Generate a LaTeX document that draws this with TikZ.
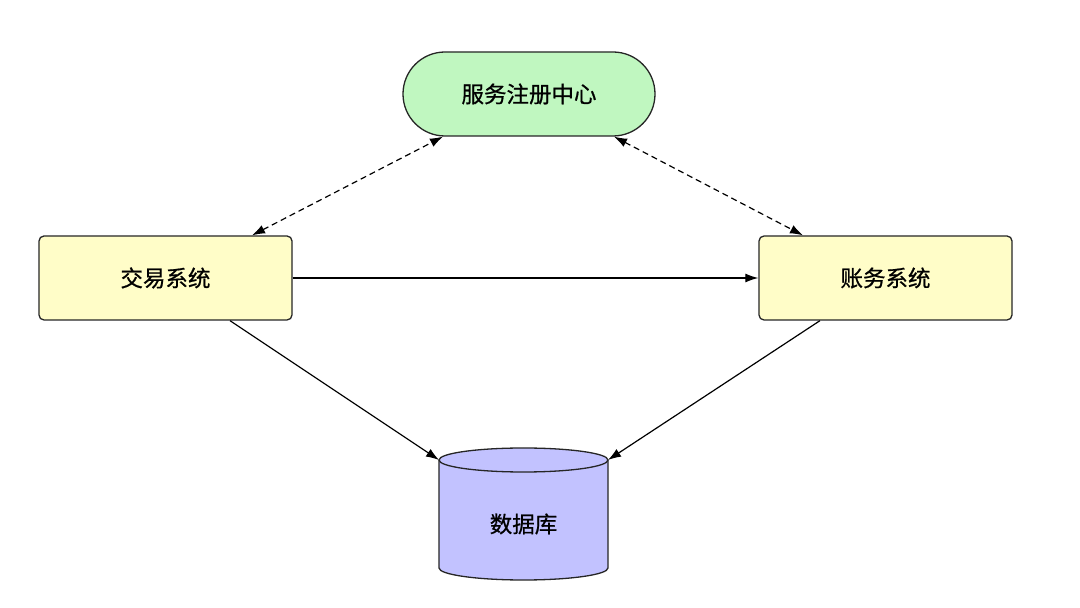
\documentclass[tikz,border=0pt]{standalone}
\usepackage{fontspec}
\newfontfamily\cjk[FakeBold=0.8]{Noto Sans CJK SC}
\usetikzlibrary{arrows.meta,calc}
\definecolor{regfill}{HTML}{C0F7C0}
\definecolor{sysfill}{HTML}{FFFDC8}
\definecolor{dbfill}{HTML}{C2C2FF}
\begin{document}
\begin{tikzpicture}[x=1pt,y=1pt,
  every node/.style={font=\cjk\fontsize{22.5}{26}\selectfont},
  sysbox/.style={draw=black!85,line width=1.3pt,fill=sysfill,rounded corners=5pt,minimum width=253pt,minimum height=84pt,inner sep=0pt},
  regbox/.style={draw=black!85,line width=1.3pt,fill=regfill,rounded corners=42pt,minimum width=252pt,minimum height=84pt,inner sep=0pt},
  conn/.style={line width=1.2pt,-{Latex[length=13pt,width=9pt]}},
  dconn/.style={line width=1.2pt,dashed,dash pattern=on 6pt off 4pt,{Latex[length=13pt,width=9pt]}-{Latex[length=13pt,width=9pt]}}
]
\useasboundingbox (0,0) rectangle (1080,608);
\fill[white] (0,0) rectangle (1080,608);
% nodes
\node[regbox] (reg) at (529,514) {服务注册中心};
\node[sysbox] (trade) at (165.5,330) {交易系统};
\node[sysbox] (acct) at (885.5,330) {账务系统};
% cylinder
\filldraw[fill=dbfill,draw=black!85,line width=1.3pt]
  (439,148) -- (439,40) arc[start angle=180,end angle=360,x radius=84.5,y radius=12]
  -- (608,148) arc[start angle=0,end angle=180,x radius=84.5,y radius=12] -- cycle;
\draw[draw=black!85,line width=1.3pt] (439,148) arc[start angle=180,end angle=360,x radius=84.5,y radius=12];
\node (db) at (523.5,84) {数据库};
\coordinate (dbL) at (439,148);
\coordinate (dbR) at (608,148);
% connectors
\draw[dconn] ($(trade.north)+(86.5,0)$) -- ($(reg.south)+(-86,0)$);
\draw[dconn] ($(reg.south)+(85,0)$) -- ($(acct.north)+(-82.5,0)$);
\draw[conn] (trade.east) -- (acct.west);
\draw[conn] ($(trade.south)+(64.5,0)$) -- (dbL);
\draw[conn] ($(acct.south)+(-65.5,0)$) -- (dbR);
\end{tikzpicture}
\end{document}
